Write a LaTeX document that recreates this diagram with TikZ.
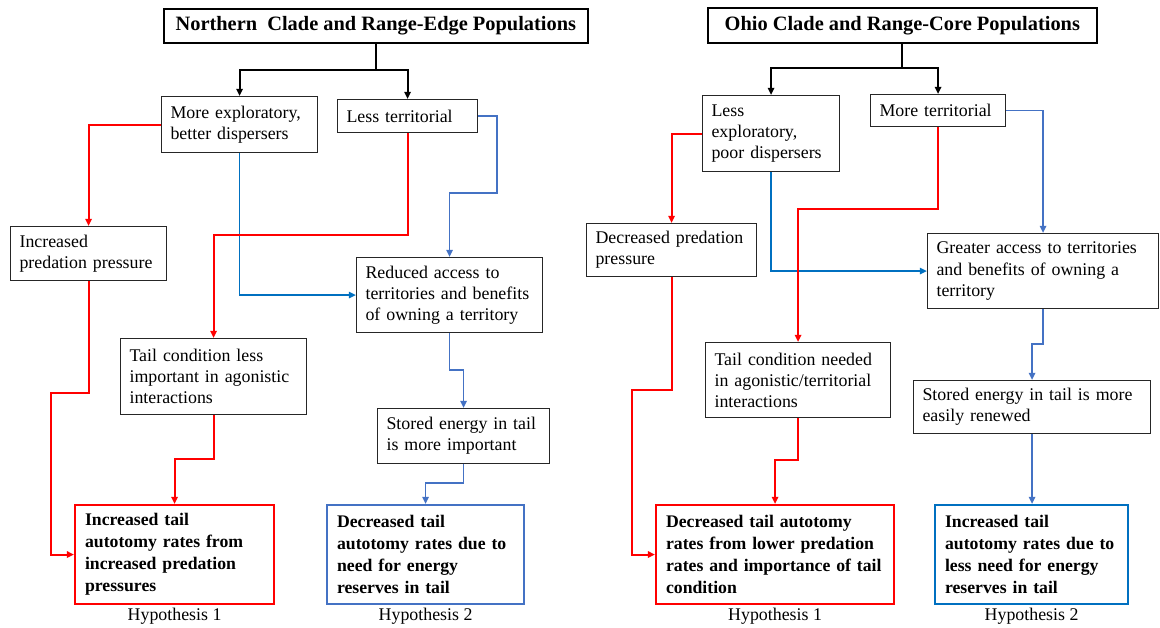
\documentclass[tikz,border=0pt]{standalone}
\usepackage{fontspec}
\setmainfont{Liberation Serif}
\usetikzlibrary{
  arrows.meta,
  positioning
}
\newlength\px
\setlength\px{0.025cm}
\definecolor{hypRed}{HTML}{FF0000}
\definecolor{dispBlue}{HTML}{0070C0}
\definecolor{terrBlue}{HTML}{4472C4}
\definecolor{boxGray}{HTML}{262626}
\tikzset{
  causeBox/.style={
    draw=boxGray,
    line width=0.8pt,
    anchor=north west,
    align=left,
    font=\fontsize{12.7}{15}\selectfont,
    inner xsep=9\px,
    inner ysep=2\px
  },
  titleBox/.style={
    causeBox,
    draw=black,
    line width=1.2pt,
    align=center,
    font=\fontsize{14.5}{16}\selectfont\bfseries
  },
  outcomeBox/.style={
    causeBox,
    line width=1.5pt,
    font=\fontsize{12.6}{15.6}\selectfont\bfseries,
    inner xsep=10\px
  },
  hypLabel/.style={font=\fontsize{12.7}{15}\selectfont, inner sep=1pt, below=1pt},
  stemArrow/.style={-{Triangle[length=5pt,width=4.5pt]}, line width=1.4pt, black},
  redArrow/.style={-{Triangle[length=5pt,width=4.5pt]}, line width=1.4pt, hypRed},
  dispArrow/.style={-{Triangle[length=5pt,width=4.5pt]}, line width=1.2pt, dispBlue},
  terrArrow/.style={-{Triangle[length=5pt,width=4.5pt]}, line width=1.2pt, terrBlue}
}

\begin{document}
\begin{tikzpicture}[x=0.025cm,y=-0.025cm]
  \useasboundingbox (0,0) rectangle (1160,628);

  % left half: northern clade
  \node[titleBox, minimum width=424\px, minimum height=34\px] (northTitle) at (163,8)
    {Northern\ \ Clade and Range-Edge Populations};
  \node[causeBox, minimum width=156\px, minimum height=56\px, text width=138\px] (northExplore) at (161,96)
    {More exploratory,\\better dispersers};
  \node[causeBox, minimum width=140\px, minimum height=33\px, text width=122\px] (northTerr) at (337,99)
    {Less territorial};
  \node[causeBox, minimum width=156\px, minimum height=54\px, text width=138\px] (northPred) at (10,226)
    {Increased\\predation pressure};
  \node[causeBox, minimum width=186\px, minimum height=75\px, text width=168\px] (northAccess) at (356,257)
    {Reduced access to\\territories and benefits\\of owning a territory};
  \node[causeBox, minimum width=186\px, minimum height=76\px, text width=168\px] (northTail) at (120,338)
    {Tail condition less\\important in agonistic\\interactions};
  \node[causeBox, minimum width=172\px, minimum height=55\px, text width=154\px] (northEnergy) at (377,408)
    {Stored energy in tail\\is more important};
  \node[outcomeBox, draw=hypRed, minimum width=199\px, minimum height=99\px, text width=179\px] (northHypA) at (74,504)
    {Increased tail\\autotomy rates from\\increased predation\\pressures};
  \node[outcomeBox, draw=terrBlue, minimum width=197\px, minimum height=99\px, text width=177\px] (northHypB) at (326,504)
    {Decreased tail\\autotomy rates due to\\need for energy\\reserves in tail};
  \node[hypLabel] (northLabA) at (northHypA.south) {Hypothesis 1};
  \node[hypLabel] (northLabB) at (northHypB.south) {Hypothesis 2};

  \draw[stemArrow] (northTitle.south) -- (northTitle.south |- 0,70) -| (northExplore.north);
  \draw[stemArrow] (northTitle.south |- 0,70) -| (northTerr.north);
  \draw[redArrow] (northExplore.west) -| (northPred.north);
  \draw[dispArrow] (northExplore.south) |- (northAccess.west);
  \draw[redArrow] (northTerr.south) -- (northTerr.south |- 0,235) -| (northTail.north);
  \draw[terrArrow] (northTerr.east) -| (497,193) -| (northAccess.north);
  \draw[terrArrow] (northAccess.south) -- (northAccess.south |- 0,370) -| (northEnergy.north);
  \draw[redArrow] (northPred.south) |- (51,393) |- (northHypA.west);
  \draw[redArrow] (northTail.south) -- (northTail.south |- 0,459) -| (northHypA.north);
  \draw[terrArrow] (northEnergy.south) -- (northEnergy.south |- 0,483) -| (northHypB.north);

  % right half: ohio clade
  \node[titleBox, minimum width=389\px, minimum height=35\px] (ohioTitle) at (707,7)
    {Ohio Clade and Range-Core Populations};
  \node[causeBox, minimum width=137\px, minimum height=76\px, text width=119\px] (ohioExplore) at (702,95)
    {Less\\exploratory,\\poor dispersers};
  \node[causeBox, minimum width=135\px, minimum height=32\px, text width=117\px] (ohioTerr) at (870,94)
    {More territorial};
  \node[causeBox, minimum width=170\px, minimum height=53\px, text width=152\px] (ohioPred) at (586,223)
    {Decreased predation\\pressure};
  \node[causeBox, minimum width=231\px, minimum height=75\px, text width=213\px] (ohioAccess) at (927,233)
    {Greater access to territories\\and benefits of owning a\\territory};
  \node[causeBox, minimum width=185\px, minimum height=75\px, text width=167\px] (ohioTail) at (705,342)
    {Tail condition needed\\in agonistic/territorial\\interactions};
  \node[causeBox, minimum width=237\px, minimum height=53\px, text width=219\px] (ohioEnergy) at (913,380)
    {Stored energy in tail is more\\easily renewed};
  \node[outcomeBox, draw=hypRed, minimum width=238\px, minimum height=99\px, text width=218\px] (ohioHypA) at (655,504)
    {Decreased tail autotomy\\rates from lower predation\\rates and importance of tail\\condition};
  \node[outcomeBox, draw=dispBlue, minimum width=193\px, minimum height=99\px, text width=173\px] (ohioHypB) at (934,504)
    {Increased tail\\autotomy rates due to\\less need for energy\\reserves in tail};
  \node[hypLabel] (ohioLabA) at (ohioHypA.south) {Hypothesis 1};
  \node[hypLabel] (ohioLabB) at (ohioHypB.south) {Hypothesis 2};

  \draw[stemArrow] (ohioTitle.south) -- (ohioTitle.south |- 0,68) -| (ohioExplore.north);
  \draw[stemArrow] (ohioTitle.south |- 0,68) -| (ohioTerr.north);
  \draw[redArrow] (ohioExplore.west) -| (ohioPred.north);
  \draw[dispArrow] (ohioExplore.south) |- (ohioAccess.west);
  \draw[redArrow] (ohioTerr.south) -- (ohioTerr.south |- 0,209) -| (ohioTail.north);
  \draw[terrArrow] (ohioTerr.east) -| (ohioAccess.north);
  \draw[terrArrow] (ohioAccess.south) -- (ohioAccess.south |- 0,344) -| (ohioEnergy.north);
  \draw[redArrow] (ohioPred.south) |- (632,390) |- (ohioHypA.west);
  \draw[redArrow] (ohioTail.south) -- (ohioTail.south |- 0,460) -| (ohioHypA.north);
  \draw[terrArrow] (ohioEnergy.south) -- (ohioEnergy.south |- ohioHypB.north);
\end{tikzpicture}
\end{document}
